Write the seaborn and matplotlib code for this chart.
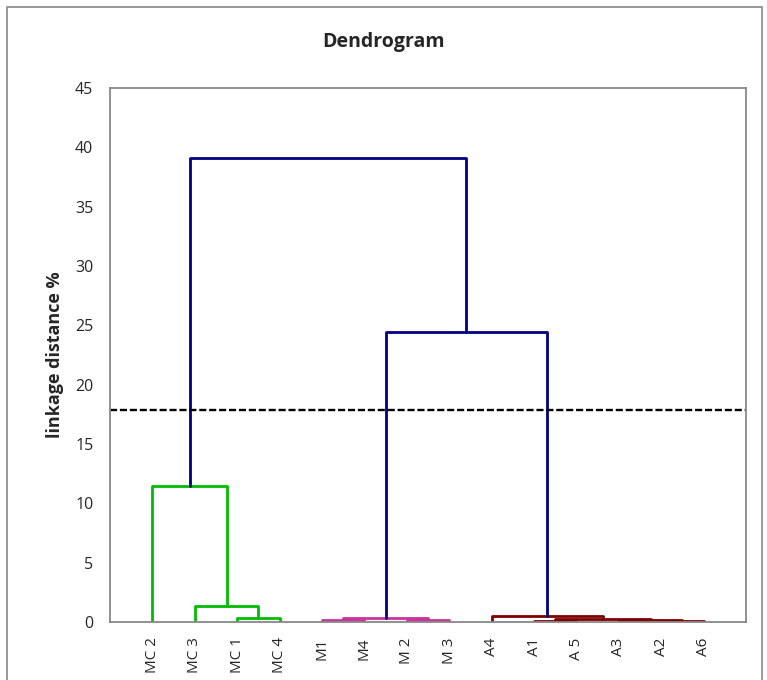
import matplotlib
matplotlib.use("Agg")
import matplotlib.pyplot as plt
import seaborn as sns
import pandas as pd
from matplotlib.patches import Rectangle

# ---- data ----
leaves = ["MC 2", "MC 3", "MC 1", "MC 4", "M1", "M4", "M 2", "M 3",
          "A4", "A1", "A 5", "A3", "A2", "A6"]
# merges: (left node, right node); new node ids start at len(leaves)
merge_left = [2, 1, 0, 4, 6, 17, 12, 11, 9, 22, 8, 19, 16]
merge_right = [3, 14, 15, 5, 7, 18, 13, 20, 10, 21, 23, 24, 25]
merge_height = [0.3, 1.35, 11.5, 0.15, 0.15, 0.35, 0.05, 0.15, 0.12, 0.25, 0.5, 24.4, 39.1]
merge_group = ["MC", "MC", "MC", "M", "M", "M", "A", "A", "A", "A", "A", "root", "root"]
cut_height = 17.9
yticks = [0, 5, 10, 15, 20, 25, 30, 35, 40, 45]

palette = {"MC": "#00BB00", "M": "#CC3399", "A": "#7F0000", "root": "#000080"}

# ---- build dendrogram segments ----
pos = {i: i + 1 for i in range(len(leaves))}
hgt = {i: 0.0 for i in range(len(leaves))}
rows = []
n = len(leaves)
for k, (a, b, h, g) in enumerate(zip(merge_left, merge_right, merge_height, merge_group)):
    node = n + k
    xa, xb = pos[a], pos[b]
    pts = [(xa, hgt[a]), (xa, h), (xb, h), (xb, hgt[b])]
    for j, (x, y) in enumerate(pts):
        rows.append({"seg": node, "order": j, "x": x, "y": y, "group": g})
    pos[node] = (xa + xb) / 2
    hgt[node] = h
df = pd.DataFrame(rows)

# ---- plot ----
sns.set_style("white")
plt.rcParams["font.family"] = ["Open Sans", "DejaVu Sans"]

fig = plt.figure(figsize=(7.67, 6.8), dpi=100)
ax = fig.add_axes([110 / 767, 1 - 622 / 680, (746 - 110) / 767, (622 - 88) / 680])

sns.lineplot(data=df, x="x", y="y", units="seg", estimator=None, sort=False,
             hue="group", palette=palette, legend=False, linewidth=2.0, ax=ax)

ax.axhline(cut_height, color="black", linestyle=(0, (3, 1.2)), linewidth=1.7)

ax.set_xlim(0, len(leaves) + 1)
ax.set_ylim(0, 45)
ax.set_xticks(range(1, len(leaves) + 1))
ax.set_xticklabels(leaves, rotation=90, fontsize=11)
ax.set_yticks(yticks)
ax.set_yticklabels([str(t) for t in yticks], fontsize=11.5)
ax.tick_params(axis="x", length=0, pad=11)
ax.tick_params(axis="y", length=8, width=1.2, color="#888888", direction="inout", pad=8)
for s in ax.spines.values():
    s.set_color("#888888")
    s.set_linewidth(1.3)
ax.set_xlabel("")
ax.set_ylabel("linkage distance %", fontsize=13, fontweight="bold")
ax.yaxis.set_label_coords(-0.073, 0.5)

fig.text(0.5, 1 - 42 / 680, "Dendrogram", ha="center", va="center",
         fontsize=14, fontweight="bold")

fig.patches.append(Rectangle((7 / 767, -0.1), (762 - 7) / 767, 1.1 - 7 / 680,
                             transform=fig.transFigure, fill=False,
                             edgecolor="#888888", linewidth=1.2))

fig.savefig("out.png", dpi=100)
